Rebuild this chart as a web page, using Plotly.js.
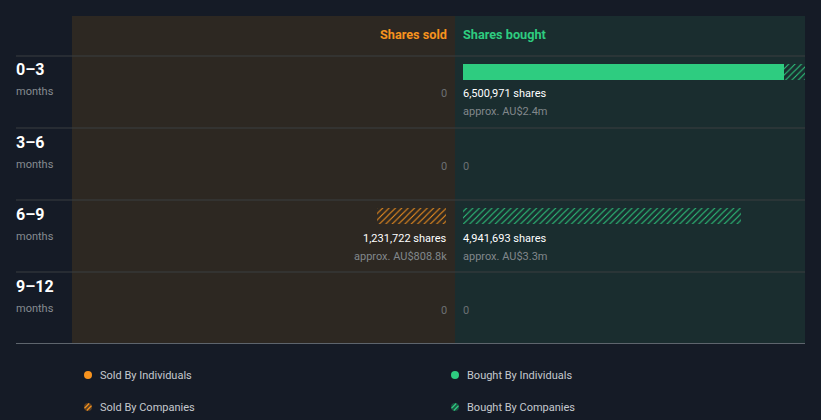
<!DOCTYPE html>
<html><head><meta charset="utf-8">
<script src="https://cdn.plot.ly/plotly-3.0.1.min.js"></script>
<style>html,body{margin:0;padding:0;background:#151b26;}#chart{width:821px;height:420px;}</style>
</head><body><div id="chart"></div>
<script>
const periods = ['0–3', '3–6', '6–9', '9–12'];
const periodUnit = 'months';
const soldByIndividuals = [0, 0, 0, 0];
const soldByCompanies = [0, 0, 1231722, 0];
const boughtByIndividuals = [5710000, 0, 0, 0];
const boughtByCompanies = [790971, 0, 4941693, 0];
const soldValue = ['', '', 'AU$808.8k', ''];
const boughtValue = ['AU$2.4m', '', 'AU$3.3m', ''];
const legendLabels = ['Sold By Individuals', 'Sold By Companies', 'Bought By Individuals', 'Bought By Companies'];

const W = 821, H = 420;
const BG = '#151b26', SOLD_BG = '#2d2822', BOUGHT_BG = '#1a2d2f';
const ORANGE = '#f7931e', GREEN = '#2ecc80';
const FONT = 'Roboto, "Noto Sans", sans-serif';
const px = v => v / W, py = v => 1 - v / H;

const rows = periods.map((_, i) => i);
const ROW = 72;
const BAR_OFF = -0.5 + 8 / ROW, BAR_W = 16 / ROW;

const hatch = c => ({shape: '/', fgcolor: c, bgcolor: 'rgba(0,0,0,0)', size: 4.5, solidity: 0.22, fillmode: 'replace'});

const traces = [
  {type: 'bar', orientation: 'h', x: soldByIndividuals, y: rows, xaxis: 'x', yaxis: 'y', offset: BAR_OFF, width: BAR_W,
   marker: {color: ORANGE, line: {width: 0}}, hoverinfo: 'skip', showlegend: false},
  {type: 'bar', orientation: 'h', x: soldByCompanies, y: rows, xaxis: 'x', yaxis: 'y', offset: BAR_OFF, width: BAR_W,
   marker: {color: 'rgba(0,0,0,0)', line: {width: 0}, pattern: hatch(ORANGE)}, hoverinfo: 'skip', showlegend: false},
  {type: 'bar', orientation: 'h', x: boughtByIndividuals, y: rows, xaxis: 'x2', yaxis: 'y', offset: BAR_OFF, width: BAR_W,
   marker: {color: GREEN, line: {width: 0}}, hoverinfo: 'skip', showlegend: false},
  {type: 'bar', orientation: 'h', x: boughtByCompanies, y: rows, xaxis: 'x2', yaxis: 'y', offset: BAR_OFF, width: BAR_W,
   marker: {color: 'rgba(0,0,0,0)', line: {width: 0}, pattern: hatch(GREEN)}, hoverinfo: 'skip', showlegend: false}
];

const scale = 56.26e-6; // px per share
const shapes = [
  {type: 'rect', xref: 'paper', yref: 'paper', x0: px(72), x1: px(455), y0: py(343), y1: py(16), fillcolor: SOLD_BG, line: {width: 0}, layer: 'below'},
  {type: 'rect', xref: 'paper', yref: 'paper', x0: px(455), x1: px(805), y0: py(343), y1: py(16), fillcolor: BOUGHT_BG, line: {width: 0}, layer: 'below'}
];
rows.forEach(i => {
  shapes.push({type: 'line', xref: 'paper', yref: 'y', x0: px(16), x1: px(805), y0: i - 0.5, y1: i - 0.5, line: {color: '#3b3e41', width: 1}, layer: 'below'});
});
shapes.push({type: 'line', xref: 'paper', yref: 'y', x0: px(16), x1: px(805), y0: rows.length - 0.5, y1: rows.length - 0.5, line: {color: '#a9b0b5', width: 1}});

const ann = [];
const LSH = -2, RSH = 3;
ann.push({xref: 'x', yref: 'paper', x: 0, y: py(34.5), xanchor: 'right', yanchor: 'middle', xshift: RSH, text: '<b>Shares sold</b>', showarrow: false, font: {family: FONT, size: 12.7, color: ORANGE}});
ann.push({xref: 'x2', yref: 'paper', x: 0, y: py(34.5), xanchor: 'left', yanchor: 'middle', xshift: LSH, text: '<b>Shares bought</b>', showarrow: false, font: {family: FONT, size: 12.7, color: GREEN}});

const fmt = n => n.toLocaleString('en-US');
rows.forEach(i => {
  ann.push({xref: 'paper', yref: 'y', x: px(16), y: i - 0.5 + 14 / ROW, xanchor: 'left', yanchor: 'middle', xshift: LSH, text: '<b>' + periods[i] + '</b>', showarrow: false, font: {family: FONT, size: 16, color: '#ffffff'}});
  ann.push({xref: 'paper', yref: 'y', x: px(16), y: i - 0.5 + 36 / ROW, xanchor: 'left', yanchor: 'middle', xshift: LSH, text: periodUnit, showarrow: false, font: {family: FONT, size: 11, color: '#868b91'}});
  const sold = soldByIndividuals[i] + soldByCompanies[i];
  const bought = boughtByIndividuals[i] + boughtByCompanies[i];
  [[sold, soldValue[i], 'x', 'right', RSH], [bought, boughtValue[i], 'x2', 'left', LSH]].forEach(([tot, val, ax, anc, sh]) => {
    if (tot === 0) {
      ann.push({xref: ax, yref: 'y', x: 0, y: i - 0.5 + 38 / ROW, xanchor: anc, yanchor: 'middle', xshift: sh, text: '0', showarrow: false, font: {family: FONT, size: 11, color: '#6c7074'}});
    } else {
      ann.push({xref: ax, yref: 'y', x: 0, y: i - 0.5 + 38 / ROW, xanchor: anc, yanchor: 'middle', xshift: sh, text: fmt(tot) + ' shares', showarrow: false, font: {family: FONT, size: 11, color: '#ffffff'}});
      ann.push({xref: ax, yref: 'y', x: 0, y: i - 0.5 + 56 / ROW, xanchor: anc, yanchor: 'middle', xshift: sh, text: 'approx. ' + val, showarrow: false, font: {family: FONT, size: 11, color: '#81878b'}});
    }
  });
});

// legend
const legPos = [[88, 375, ORANGE, 'rgba(247,147,30,0.35)', false], [88, 407, ORANGE, 'rgba(247,147,30,0.3)', true],
                [455, 375, GREEN, GREEN, false], [455, 407, GREEN, 'rgba(46,204,128,0.3)', true]];
legPos.forEach(([cx, cy, col, fill, hatched], k) => {
  shapes.push({type: 'circle', xref: 'paper', yref: 'paper', x0: px(cx - 4), x1: px(cx + 4), y0: py(cy + 4), y1: py(cy - 4),
               fillcolor: hatched ? fill : col, line: {width: 0}});
  if (hatched) {
    [-1.6, 1.6].forEach(d => {
      const half = Math.sqrt(16 - d * d) * 0.9 / Math.SQRT2;
      const ox = cx + d / Math.SQRT2, oy = cy + d / Math.SQRT2;
      shapes.push({type: 'line', xref: 'paper', yref: 'paper', x0: px(ox - half), y0: py(oy + half), x1: px(ox + half), y1: py(oy - half), line: {color: col, width: 1.2}});
    });
  }
  ann.push({xref: 'paper', yref: 'paper', x: px(cx + 12), y: py(cy), xanchor: 'left', yanchor: 'middle', xshift: LSH, text: legendLabels[k], showarrow: false, font: {family: FONT, size: 11, color: '#c5c9ce'}});
});

const layout = {
  width: W, height: H,
  margin: {l: 0, r: 0, t: 0, b: 0},
  paper_bgcolor: BG, plot_bgcolor: 'rgba(0,0,0,0)',
  barmode: 'stack', showlegend: false,
  xaxis: {domain: [px(72), px(455)], range: [(446 - 72) / scale, -9 / scale], visible: false, fixedrange: true},
  xaxis2: {domain: [px(455), px(805)], range: [-8 / scale, (805 - 463) / scale], visible: false, anchor: 'y', fixedrange: true},
  yaxis: {domain: [py(344), py(16)], range: [rows.length - 0.5, -0.5 - 40 / ROW], visible: false, fixedrange: true},
  shapes: shapes, annotations: ann
};
Plotly.newPlot('chart', traces, layout, {displayModeBar: false, staticPlot: true});
</script></body></html>
